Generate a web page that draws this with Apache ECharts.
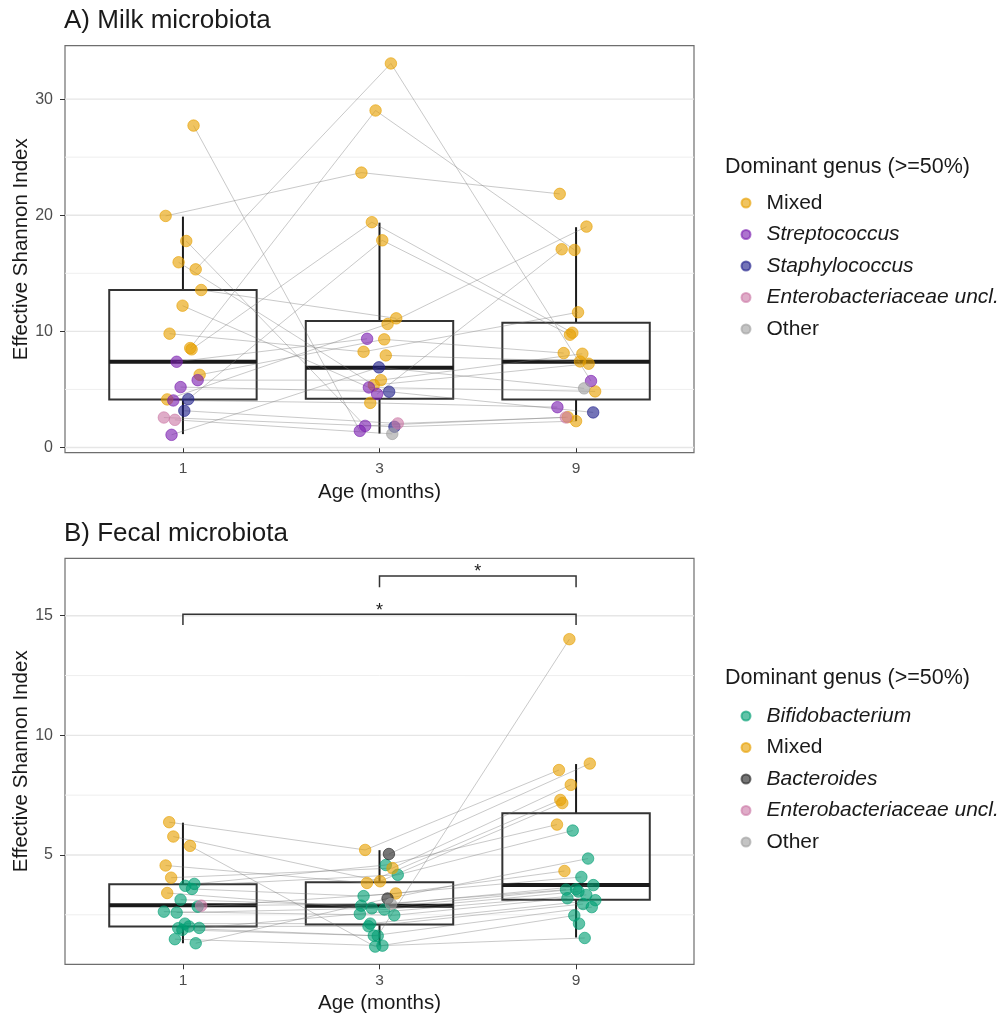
<!DOCTYPE html>
<html>
<head>
<meta charset="utf-8">
<script src="https://cdn.jsdelivr.net/npm/echarts@6/dist/echarts.min.js"></script>
<style>
html,body{margin:0;padding:0;background:#fff;}
#chart{width:1008px;height:1016px;}
</style>
</head>
<body>
<div id="chart"></div>
<script>
// ---------- DATA ----------
const ageLabels = ['1', '3', '9'];
const milkGenera = ['Mixed', 'Streptococcus', 'Staphylococcus', 'Enterobacteriaceae uncl.', 'Other'];
const fecalGenera = ['Bifidobacterium', 'Mixed', 'Bacteroides', 'Enterobacteriaceae uncl.', 'Other'];

// Milk, month 1
const milkM1Val = [27.72, 19.94, 17.78, 15.95, 15.34, 13.56, 12.21, 9.80, 8.56, 8.45, 7.38, 6.26, 5.80, 5.20, 4.14, 4.05, 4.16, 3.16, 2.58, 2.38, 1.09];
const milkM1Jit = [0.054, -0.088, 0.017, -0.022, 0.065, 0.093, -0.002, -0.068, 0.037, 0.044, -0.032, 0.085, 0.075, -0.012, -0.080, -0.049, 0.027, 0.007, -0.097, -0.041, -0.058];
const milkM1Genus = ['Mixed','Mixed','Mixed','Mixed','Mixed','Mixed','Mixed','Mixed','Mixed','Mixed','Streptococcus','Mixed','Streptococcus','Streptococcus','Mixed','Streptococcus','Staphylococcus','Staphylococcus','Enterobacteriaceae uncl.','Enterobacteriaceae uncl.','Streptococcus'];
// Milk, month 3
const milkM3Val = [33.07, 29.02, 23.67, 19.40, 17.84, 11.12, 10.63, 9.36, 9.31, 8.24, 7.93, 6.90, 5.80, 5.37, 5.17, 4.60, 4.80, 3.84, 1.86, 1.43, 2.07, 1.78, 1.17];
const milkM3Jit = [0.058, -0.020, -0.092, -0.039, 0.014, 0.085, 0.041, -0.063, 0.024, -0.081, 0.032, -0.003, 0.007, -0.029, -0.054, -0.012, 0.049, -0.047, -0.073, -0.100, 0.093, 0.076, 0.065];
const milkM3Genus = ['Mixed','Mixed','Mixed','Mixed','Mixed','Mixed','Mixed','Streptococcus','Mixed','Mixed','Mixed','Staphylococcus','Mixed','Mixed','Streptococcus','Streptococcus','Staphylococcus','Mixed','Streptococcus','Streptococcus','Enterobacteriaceae uncl.','Staphylococcus','Other'];
// Milk, month 9
const milkM9Val = [21.84, 19.02, 17.07, 17.01, 11.64, 9.88, 9.71, 8.13, 8.07, 7.41, 7.21, 5.72, 5.09, 4.83, 3.47, 3.02, 2.59, 2.61, 2.27];
const milkM9Jit = [-0.083, 0.053, -0.073, -0.008, 0.010, -0.019, -0.031, -0.063, 0.032, 0.020, 0.064, 0.076, 0.041, 0.097, -0.095, 0.087, -0.052, -0.042, 0.000];
const milkM9Genus = ['Mixed','Mixed','Mixed','Mixed','Mixed','Mixed','Mixed','Mixed','Mixed','Mixed','Mixed','Streptococcus','Other','Mixed','Streptococcus','Staphylococcus','Enterobacteriaceae uncl.','Mixed','Mixed'];
// Milk paired samples (index at earlier month, index at later month)
const milkLinks13 = [[0,19],[1,2],[4,0],[8,1],[9,3],[16,4],[2,18],[3,13],[5,5],[6,14],[7,9],[10,7],[11,8],[12,12],[13,16],[14,6],[15,17],[17,20],[18,21],[19,22],[20,11]];
const milkLinks39 = [[0,11],[1,3],[2,0],[3,5],[6,1],[15,2],[8,7],[4,6],[9,4],[10,9],[11,12],[12,8],[13,10],[14,13],[16,15],[17,14],[18,17],[20,16],[21,18]];
// Milk box statistics: [lower whisker, Q1, median, Q3, upper whisker]
const milkBox = [[1.15, 4.14, 7.38, 13.56, 19.88], [1.20, 4.19, 6.86, 10.89, 19.36], [2.27, 4.14, 7.38, 10.74, 18.97]];

// Fecal, month 1
const fecM1Val = [6.37, 5.77, 5.38, 4.56, 4.05, 3.41, 3.79, 3.71, 3.58, 3.13, 2.84, 2.88, 2.63, 2.59, 2.13, 2.01, 1.94, 1.87, 1.95, 1.48, 1.31];
const fecM1Jit = [-0.070, -0.049, 0.036, -0.088, -0.060, -0.080, 0.058, 0.012, 0.046, -0.012, 0.075, 0.093, -0.097, -0.032, 0.010, 0.031, -0.024, -0.003, 0.083, -0.041, 0.065];
const fecM1Genus = ['Mixed','Mixed','Mixed','Mixed','Mixed','Mixed','Bifidobacterium','Bifidobacterium','Bifidobacterium','Bifidobacterium','Bifidobacterium','Enterobacteriaceae uncl.','Bifidobacterium','Bifidobacterium','Bifidobacterium','Bifidobacterium','Bifidobacterium','Bifidobacterium','Bifidobacterium','Bifidobacterium','Bifidobacterium'];
// Fecal, month 3
const fecM3Val = [5.21, 5.04, 4.58, 4.45, 4.17, 3.83, 3.90, 3.39, 3.18, 2.95, 3.28, 2.88, 2.77, 2.72, 2.48, 2.54, 2.13, 2.02, 1.63, 1.62, 1.17, 1.21];
const fecM3Jit = [-0.073, 0.048, 0.032, 0.066, 0.093, -0.064, 0.003, 0.083, 0.041, 0.058, -0.081, -0.093, -0.039, 0.024, 0.075, -0.100, -0.047, -0.056, -0.029, -0.009, -0.022, 0.015];
const fecM3Genus = ['Mixed','Bacteroides','Bifidobacterium','Mixed','Bifidobacterium','Mixed','Mixed','Mixed','Bacteroides','Other','Bifidobacterium','Bifidobacterium','Bifidobacterium','Bifidobacterium','Bifidobacterium','Bifidobacterium','Bifidobacterium','Bifidobacterium','Bifidobacterium','Bifidobacterium','Bifidobacterium','Bifidobacterium'];
// Fecal, month 9
const fecM9Val = [14.02, 8.82, 8.55, 7.93, 7.30, 7.17, 6.27, 6.02, 4.85, 4.33, 4.08, 3.74, 3.55, 3.57, 3.47, 3.19, 3.33, 3.11, 2.95, 2.82, 2.47, 2.13, 1.53];
const fecM9Jit = [-0.034, 0.070, -0.087, -0.027, -0.080, -0.070, -0.097, -0.017, 0.061, -0.059, 0.027, 0.088, -0.051, 0.000, 0.012, -0.044, 0.052, 0.098, 0.036, 0.080, -0.009, 0.015, 0.044];
const fecM9Genus = ['Mixed','Mixed','Mixed','Mixed','Mixed','Mixed','Mixed','Bifidobacterium','Bifidobacterium','Mixed','Bifidobacterium','Bifidobacterium','Bifidobacterium','Bifidobacterium','Bifidobacterium','Bifidobacterium','Bifidobacterium','Bifidobacterium','Bifidobacterium','Bifidobacterium','Bifidobacterium','Bifidobacterium','Bifidobacterium'];
const fecLinks13 = [[0,0],[1,6],[2,20],[3,5],[4,3],[5,13],[6,2],[7,4],[8,10],[9,11],[10,7],[11,9],[12,14],[13,12],[14,16],[15,17],[16,18],[17,19],[18,15],[19,21],[20,8]];
const fecLinks39 = [[19,0],[0,2],[1,1],[3,3],[5,4],[6,5],[2,6],[4,7],[7,9],[8,8],[10,10],[9,11],[11,12],[12,13],[13,14],[14,15],[15,16],[16,17],[17,18],[18,19],[20,20],[21,22]];
const fecBox = [[1.31, 2.01, 2.90, 3.78, 6.35], [1.24, 2.09, 2.88, 3.86, 5.20], [1.55, 3.13, 3.74, 6.74, 8.80]];
// Significance brackets (fecal)
const bracketFrom = [1, 2];
const bracketTo = [3, 3];
const bracketY = [15.06, 16.66];
const bracketDrop = [0.45, 0.47];
const bracketLabel = ['*', '*'];

// Axis ranges / gridlines
const milkYRange = [-0.45, 34.6];
const fecYRange = [0.43, 17.4];
const milkTicks = [0, 10, 20, 30];
const fecTicks = [5, 10, 15];
const milkMinor = [5, 15, 25];
const fecMinor = [2.5, 7.5, 12.5];

// ---------- STYLE ----------
const FONT = '"Liberation Sans", Arial, Helvetica, sans-serif';
const X_MIN = 0.4, X_MAX = 3.6, BOX_HALF = 0.375;
const colors = {
  'Mixed': '#E69F00',
  'Streptococcus': '#7B1FB0',
  'Staphylococcus': '#1F1F8A',
  'Enterobacteriaceae uncl.': '#CC79A7',
  'Other': '#A0A0A0',
  'Bifidobacterium': '#009E73',
  'Bacteroides': '#222222'
};
const italic = new Set(['Streptococcus', 'Staphylococcus', 'Enterobacteriaceae uncl.', 'Bifidobacterium', 'Bacteroides']);

// ---------- BUILD ----------
function boxRender(params, api) {
  const x = api.value(0), lo = api.value(1), q1 = api.value(2), med = api.value(3), q3 = api.value(4), hi = api.value(5);
  const tl = api.coord([x - BOX_HALF, q3]), br = api.coord([x + BOX_HALF, q1]);
  const m1 = api.coord([x - BOX_HALF, med]), m2 = api.coord([x + BOX_HALF, med]);
  const a = api.coord([x, q3]), b = api.coord([x, hi]), c = api.coord([x, q1]), d = api.coord([x, lo]);
  return { type: 'group', children: [
    { type: 'line', shape: { x1: a[0], y1: a[1], x2: b[0], y2: b[1] }, style: { stroke: '#1a1a1a', lineWidth: 2 } },
    { type: 'line', shape: { x1: c[0], y1: c[1], x2: d[0], y2: d[1] }, style: { stroke: '#1a1a1a', lineWidth: 2 } },
    { type: 'rect', shape: { x: tl[0], y: tl[1], width: br[0] - tl[0], height: br[1] - tl[1] }, style: { fill: 'none', stroke: '#333', lineWidth: 2 } },
    { type: 'line', shape: { x1: m1[0], y1: m1[1], x2: m2[0], y2: m2[1] }, style: { stroke: '#1a1a1a', lineWidth: 4 } }
  ]};
}
function segRender(params, api) {
  const p = api.coord([api.value(0), api.value(1)]), q = api.coord([api.value(2), api.value(3)]);
  return { type: 'line', shape: { x1: p[0], y1: p[1], x2: q[0], y2: q[1] }, style: { stroke: 'rgba(120,120,120,0.4)', lineWidth: 1 } };
}
function gridRender(params, api) {
  const p = api.coord([api.value(0), api.value(1)]), q = api.coord([api.value(2), api.value(1)]);
  const major = api.value(3) === 1;
  return { type: 'line', shape: { x1: p[0], y1: p[1], x2: q[0], y2: q[1] }, style: { stroke: major ? '#e6e6e6' : '#efefef', lineWidth: major ? 1.4 : 1 } };
}
function bracketRender(params, api) {
  const x1 = api.value(0), x2 = api.value(1), y = api.value(2), yd = api.value(3);
  const a = api.coord([x1, yd]), b = api.coord([x1, y]), c = api.coord([x2, y]), d = api.coord([x2, yd]);
  return { type: 'group', children: [
    { type: 'polyline', shape: { points: [a, b, c, d] }, style: { fill: 'none', stroke: '#333', lineWidth: 1.5 } },
    { type: 'text', x: (b[0] + c[0]) / 2, y: b[1] - 12.5, style: { text: bracketLabel[params.dataIndex], fill: '#1a1a1a', fontSize: 18, fontFamily: FONT, align: 'center', verticalAlign: 'top' } }
  ]};
}

function buildPanel(gi, timeVals, timeJits, timeGenus, links13, links39, box, genera, majors, minors) {
  const series = [];
  const gridData = majors.map(v => [X_MIN, v, X_MAX, 1]).concat(minors.map(v => [X_MIN, v, X_MAX, 0]));
  series.push({ type: 'custom', xAxisIndex: gi, yAxisIndex: gi, z: 1, silent: true, data: gridData, renderItem: gridRender, encode: { x: [0, 2], y: 1 } });
  series.push({ type: 'custom', xAxisIndex: gi, yAxisIndex: gi, z: 2, silent: true, data: box.map((s, i) => [i + 1].concat(s)), renderItem: boxRender, encode: { x: 0, y: [1, 2, 3, 4, 5] } });
  const segs = [];
  links13.forEach(([i, j]) => segs.push([1 + timeJits[0][i], timeVals[0][i], 2 + timeJits[1][j], timeVals[1][j]]));
  links39.forEach(([i, j]) => segs.push([2 + timeJits[1][i], timeVals[1][i], 3 + timeJits[2][j], timeVals[2][j]]));
  series.push({ type: 'custom', xAxisIndex: gi, yAxisIndex: gi, z: 3, silent: true, data: segs, renderItem: segRender, encode: { x: [0, 2], y: [1, 3] } });
  genera.forEach(g => {
    const data = [];
    for (let t = 0; t < 3; t++) {
      timeVals[t].forEach((v, k) => { if (timeGenus[t][k] === g) data.push([t + 1 + timeJits[t][k], v]); });
    }
    series.push({
      type: 'scatter', name: g, xAxisIndex: gi, yAxisIndex: gi, z: 5, data: data,
      symbol: 'circle', symbolSize: 11.5,
      itemStyle: { color: colors[g], borderColor: colors[g], borderWidth: 1, opacity: 0.62 }
    });
  });
  return series;
}

const seriesA = buildPanel(0, [milkM1Val, milkM3Val, milkM9Val], [milkM1Jit, milkM3Jit, milkM9Jit], [milkM1Genus, milkM3Genus, milkM9Genus], milkLinks13, milkLinks39, milkBox, milkGenera, milkTicks, milkMinor);
const seriesB = buildPanel(1, [fecM1Val, fecM3Val, fecM9Val], [fecM1Jit, fecM3Jit, fecM9Jit], [fecM1Genus, fecM3Genus, fecM9Genus], fecLinks13, fecLinks39, fecBox, fecalGenera, fecTicks, fecMinor);
const bracketSeries = {
  type: 'custom', xAxisIndex: 1, yAxisIndex: 1, z: 4, silent: true,
  data: bracketFrom.map((f, i) => [f, bracketTo[i], bracketY[i], bracketY[i] - bracketDrop[i]]),
  renderItem: bracketRender, encode: { x: [0, 1], y: [2, 3] }
};

function xAxis(gi) {
  return {
    type: 'value', gridIndex: gi, min: X_MIN, max: X_MAX,
    name: 'Age (months)', nameLocation: 'middle', nameGap: 29, nameMoveOverlap: false,
    nameTextStyle: { fontFamily: FONT, fontSize: 20.5, color: '#1a1a1a' },
    axisLine: { show: false },
    axisTick: { show: true, customValues: [1, 2, 3], length: 5, lineStyle: { color: '#333', width: 1 } },
    axisLabel: { customValues: [1, 2, 3], formatter: v => ageLabels[Math.round(v) - 1], fontFamily: FONT, fontSize: 15.5, color: '#4d4d4d', margin: 8 },
    splitLine: { show: false }
  };
}
function yAxis(gi, range, ticks) {
  return {
    type: 'value', gridIndex: gi, min: range[0], max: range[1],
    name: 'Effective Shannon Index', nameLocation: 'middle', nameGap: 33, nameRotate: 90, nameMoveOverlap: false,
    nameTextStyle: { fontFamily: FONT, fontSize: 20.5, color: '#1a1a1a' },
    axisLine: { show: false },
    axisTick: { show: true, customValues: ticks, length: 5, lineStyle: { color: '#333', width: 1 } },
    axisLabel: { customValues: ticks, fontFamily: FONT, fontSize: 16, color: '#4d4d4d', margin: 12 },
    splitLine: { show: false }
  };
}
function legend(top, names) {
  return {
    orient: 'vertical', left: 735.5, top: top, itemWidth: 9, itemHeight: 9, itemGap: 9.5,
    selectedMode: false, data: names, icon: 'circle',
    formatter: n => (italic.has(n) ? '{i|' + n + '}' : '{n|' + n + '}'),
    textStyle: {
      fontFamily: FONT, fontSize: 21, color: '#1a1a1a', lineHeight: 22,
      rich: {
        i: { fontFamily: FONT, fontSize: 21, fontStyle: 'italic', color: '#1a1a1a', lineHeight: 22, padding: [0, 0, 0, 11] },
        n: { fontFamily: FONT, fontSize: 21, color: '#1a1a1a', lineHeight: 22, padding: [0, 0, 0, 11] }
      }
    }
  };
}

const option = {
  animation: false,
  backgroundColor: '#fff',
  title: [
    { text: 'A) Milk microbiota', left: 64, top: 8, padding: 0, textStyle: { fontFamily: FONT, fontSize: 26, fontWeight: 'normal', color: '#1a1a1a' } },
    { text: 'B) Fecal microbiota', left: 64, top: 521, padding: 0, textStyle: { fontFamily: FONT, fontSize: 26, fontWeight: 'normal', color: '#1a1a1a' } },
    { text: 'Dominant genus (>=50%)', left: 725, top: 156, padding: 0, textStyle: { fontFamily: FONT, fontSize: 21.5, fontWeight: 'normal', color: '#1a1a1a' } },
    { text: 'Dominant genus (>=50%)', left: 725, top: 667, padding: 0, textStyle: { fontFamily: FONT, fontSize: 21.5, fontWeight: 'normal', color: '#1a1a1a' } }
  ],
  legend: [legend(187, milkGenera), legend(700, fecalGenera)],
  grid: [
    { left: 65, top: 45.7, width: 629, height: 407, show: true, borderColor: '#6e6e6e', borderWidth: 1.2, backgroundColor: 'transparent', containLabel: false, outerBoundsMode: 'none' },
    { left: 65, top: 558.3, width: 629, height: 406, show: true, borderColor: '#6e6e6e', borderWidth: 1.2, backgroundColor: 'transparent', containLabel: false, outerBoundsMode: 'none' }
  ],
  xAxis: [xAxis(0), xAxis(1)],
  yAxis: [yAxis(0, milkYRange, milkTicks), yAxis(1, fecYRange, fecTicks)],
  series: seriesA.concat(seriesB, [bracketSeries])
};

const chart = echarts.init(document.getElementById('chart'), null, { renderer: 'canvas' });
chart.setOption(option);
</script>
</body>
</html>
